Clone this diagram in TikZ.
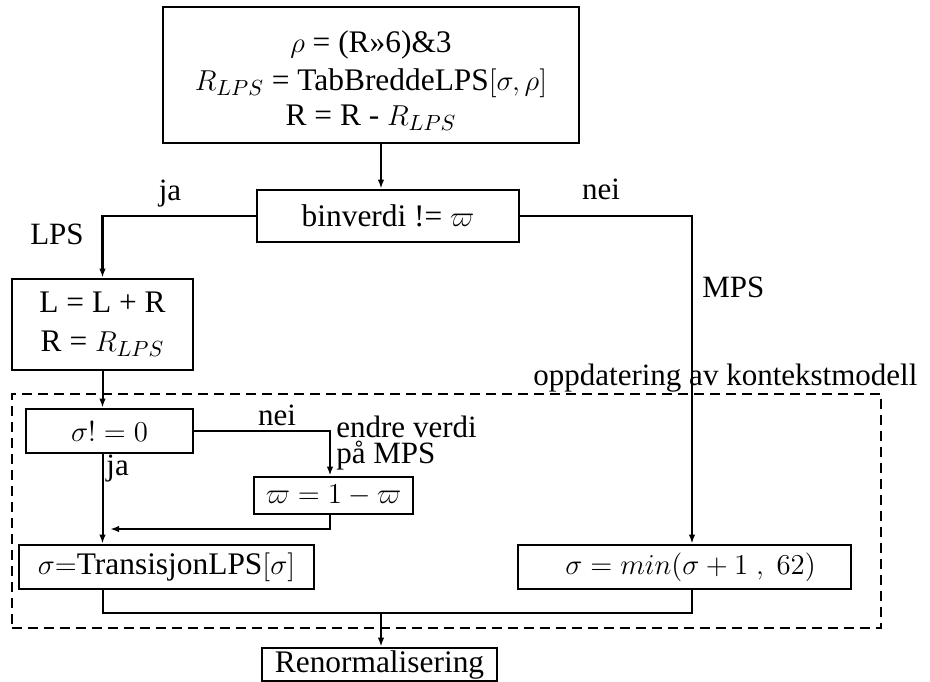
\documentclass[tikz,border=0pt]{standalone}
\usepackage{fontspec}
\setmainfont{Liberation Serif}
\usetikzlibrary{arrows.meta,calc}
\begin{document}
\begin{tikzpicture}[x=0.5pt,y=-0.5pt,
  box/.style={draw,line width=1.3pt,inner sep=0pt,align=center,font=\fontsize{15.7}{17.5}\selectfont},
  lbl/.style={inner sep=0pt,font=\fontsize{15.5}{18}\selectfont},
  conn/.style={line width=1pt},
  arr/.style={line width=1pt,-{Latex[length=4.5pt,width=3.2pt]}},
  heavy/.style={line width=1.3pt},
  region/.style={draw,line width=1pt,dash pattern=on 5pt off 3pt,inner sep=0pt}
  ]
\useasboundingbox (0,0) rectangle (930,681);
% region
\node[region,minimum width=434.5pt,minimum height=117pt] (upd) at (446.5,511) {};
% boxes
\node[box,minimum width=208pt,minimum height=68pt] (top) at (371,75)
  {\rule{0pt}{16.5pt}$\rho$ = (R»6)\&3\\[1.5pt] $R_{LPS}$ = TabBreddeLPS$[\sigma,\rho]$\\ R = R - $R_{LPS}$};
\node[box,minimum width=131pt,minimum height=26pt] (bin) at (388,216) {binverdi != $\varpi$};
\node[box,minimum width=90.5pt,minimum height=45.5pt] (LR) at (102.5,324.5) {L = L + R\\[2pt] R = $R_{LPS}$};
\node[box,minimum width=83.5pt,minimum height=22pt] (sig) at (109.5,431) {$\sigma! = 0$};
\node[box,minimum width=79.5pt,minimum height=18.5pt] (varpi) at (333.5,495.5) {$\varpi = 1 - \varpi$};
\node[box,minimum width=147.5pt,minimum height=22pt] (trans) at (166.5,567) {$\sigma{=}$TransisjonLPS$[\sigma]$};
\node[box,minimum width=166.5pt,minimum height=22pt] (min) at (684.5,567) {\hspace*{6pt}$\sigma = min(\sigma + 1\ ,\ 62)$};
\node[box,minimum width=117.5pt,minimum height=16.5pt] (renorm) at (379.5,664.5) {Renormalisering};
% connectors
\draw[arr] ([xshift=5pt]top.south) -- ([xshift=5pt]top.south |- bin.north);
\draw[arr,heavy] (bin.west) -| (LR.north);
\draw[arr] (bin.east) -| ([xshift=3.75pt]min.north);
\draw[arr] (LR.south) -- (LR.south |- sig.north);
\draw[arr,heavy] (sig.east) -| ([xshift=-1.75pt]varpi.north);
\draw[arr] (LR.south |- sig.south) -- (LR.south |- trans.north);
\coordinate (back) at (110,529);
\draw[arr] ([xshift=-1.75pt]varpi.south) |- (back);
\coordinate (merge) at (381,613);
\draw[conn] (LR.south |- trans.south) |- (merge) -| ([xshift=3.75pt]min.south);
\draw[arr] (merge) -- (merge |- renorm.north);
% labels
\node[lbl,anchor=base] (ja1) at (170,200) {ja};
\node[lbl,anchor=base] (lps) at (57,244) {LPS};
\node[lbl,anchor=base] (nei1) at (601,199) {nei};
\node[lbl,anchor=base west] (mps) at (702,297) {MPS};
\node[lbl,anchor=base west] (updl) at (533,385) {oppdatering av kontekstmodell};
\node[lbl,anchor=base] (nei2) at (277,425) {nei};
\node[lbl,anchor=base west] (endre) at (336,437) {endre verdi};
\node[lbl,anchor=base west] (paa) at (336,463) {på MPS};
\node[lbl,anchor=base west] (ja2) at (106,475) {ja};
\end{tikzpicture}
\end{document}
